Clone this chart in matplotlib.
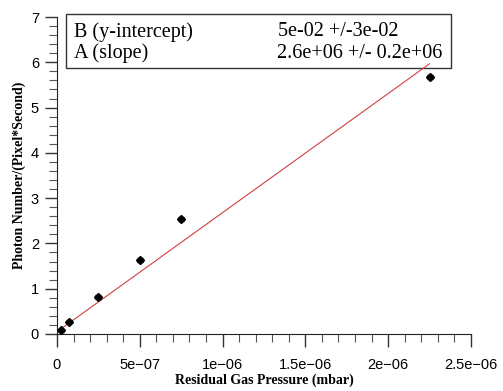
import numpy as np
import matplotlib
matplotlib.use('Agg')
from matplotlib import pyplot as plt
from matplotlib.ticker import MultipleLocator, FixedFormatter, FixedLocator

# measured points
pressure = [2.5e-8, 7.5e-8, 2.5e-7, 5.0e-7, 7.5e-7, 2.25e-6]
photons = [0.08, 0.27, 0.82, 1.64, 2.54, 5.67]
photons_err = [0.03, 0.03, 0.04, 0.04, 0.05, 0.05]

# linear fit results
intercept = 5e-02
slope = 2.63e+06

xtick_vals = [0, 5e-7, 1e-6, 1.5e-6, 2e-6, 2.5e-6]
xtick_labels = ['0', '5e\u221207', '1e\u221206', '1.5e\u221206', '2e\u221206', '2.5e\u221206']

fig = plt.figure(figsize=(5.03, 3.91), dpi=100)
ax = fig.add_axes([0.1133, 0.1458, 0.8230, 0.8107])

fit_x = np.array([pressure[0], pressure[-1]])
ax.plot(fit_x, intercept + slope * fit_x, color='#d04040', lw=0.8)
ax.errorbar(pressure, photons, yerr=photons_err, fmt='D', color='black',
            ms=4, capsize=2, elinewidth=1, zorder=3)

ax.set_xlim(0, 2.5e-6)
ax.set_ylim(0, 7)
ax.xaxis.set_major_locator(FixedLocator(xtick_vals))
ax.xaxis.set_major_formatter(FixedFormatter(xtick_labels))
ax.xaxis.set_minor_locator(MultipleLocator(1e-7))
ax.yaxis.set_major_locator(MultipleLocator(1))
ax.yaxis.set_minor_locator(MultipleLocator(0.2))

for s in ['top', 'right']:
    ax.spines[s].set_visible(False)
for s in ['left', 'bottom']:
    ax.spines[s].set_color('#222222')
ax.tick_params(which='major', length=9, width=1, color='#333333', labelsize=10.5)
ax.tick_params(which='minor', length=6, width=0.8, color='#555555')
ax.tick_params(axis='x', which='major', pad=8)
ax.tick_params(axis='y', which='major', pad=4)
for lab in ax.get_xticklabels() + ax.get_yticklabels():
    lab.set_fontfamily('Liberation Sans')

ax.set_xlabel('Residual Gas Pressure (mbar)', fontfamily='Liberation Serif',
              fontweight='bold', fontsize=10)
ax.xaxis.set_label_coords(0.5, -0.125)
ax.set_ylabel('Photon Number/(Pixel*Second)', fontfamily='Liberation Serif',
              fontweight='bold', fontsize=10)
ax.yaxis.set_label_coords(-0.075, 0.5)

# fit result box
box = plt.Rectangle((0.021, 0.838), 0.93, 0.172, transform=ax.transAxes,
                    fill=False, edgecolor='#333333', lw=1, clip_on=False)
ax.add_patch(box)
tkw = dict(transform=ax.transAxes, fontfamily='Liberation Serif', fontsize=14.5, va='center')
ax.text(0.041, 0.953, 'B (y-intercept)', **tkw)
ax.text(0.041, 0.886, 'A (slope)', **tkw)
ax.text(0.535, 0.953, '5e-02 +/-3e-02', **tkw)
ax.text(0.532, 0.886, '2.6e+06 +/- 0.2e+06', **tkw)

fig.savefig('out.png', dpi=100)
